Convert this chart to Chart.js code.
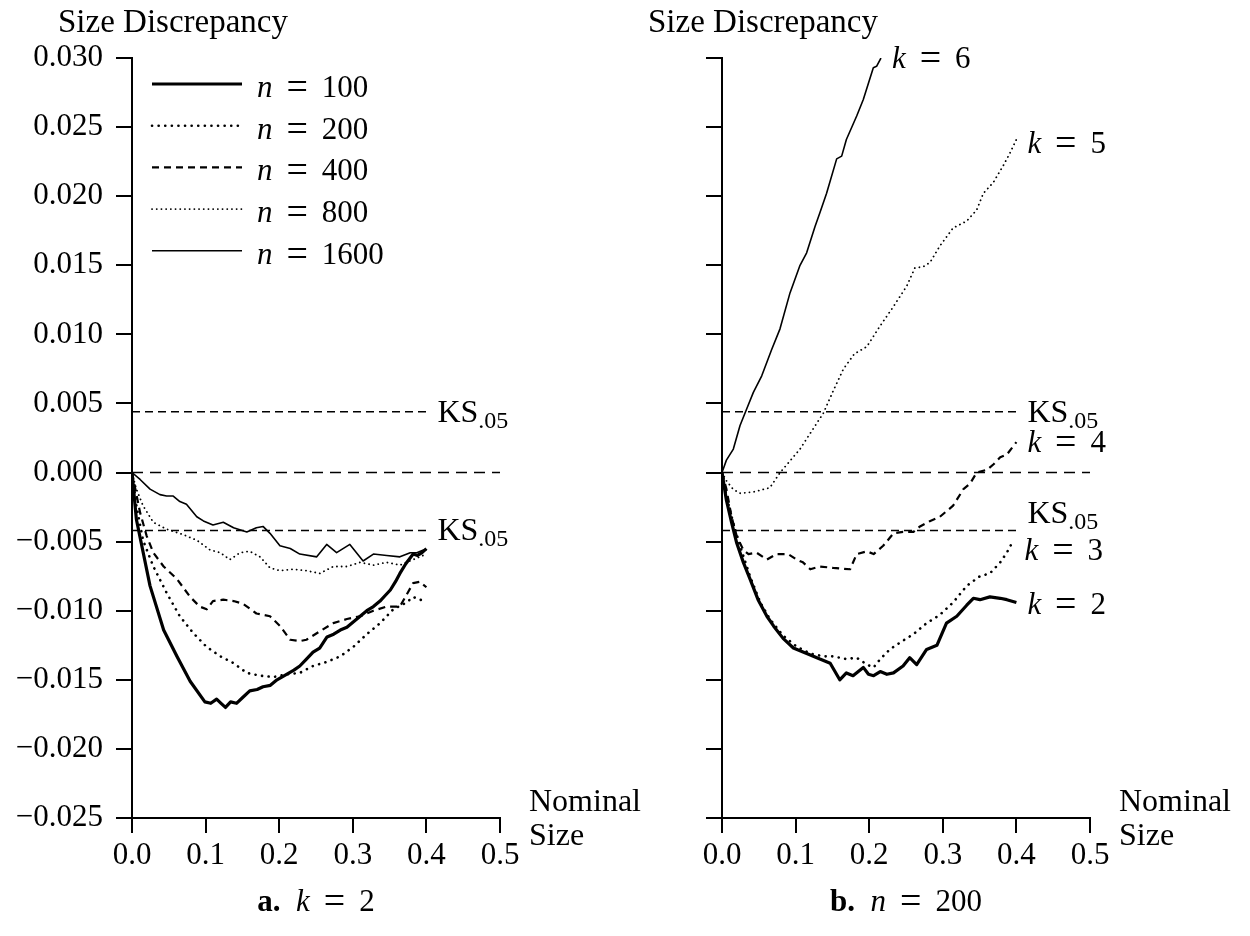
<!DOCTYPE html>
<html>
<head>
<meta charset="utf-8">
<script src="https://cdn.jsdelivr.net/npm/chart.js@4.4.1/dist/chart.umd.min.js"></script>
<style>
  html, body { margin: 0; padding: 0; background: #fff; }
  #wrap { position: relative; width: 1250px; height: 936px; overflow: hidden; }
  canvas { position: absolute; top: 0; }
</style>
</head>
<body>
<div id="wrap">
  <canvas id="left" width="660" height="936" style="left:0"></canvas>
  <canvas id="right" width="660" height="936" style="left:590px"></canvas>
</div>
<script>
const FONT = '"Liberation Serif", "Times New Roman", serif';

// axis ticks
const xTicks = [0, 0.1, 0.2, 0.3, 0.4, 0.5];
const yTicks = [-0.025, -0.02, -0.015, -0.01, -0.005, 0, 0.005, 0.01, 0.015, 0.02, 0.025, 0.03];

// reference lines
const ksLevels = [0.0044, -0.0042];
const ksEnd = 0.4;
const zeroEnd = 0.5;

// panel a: k = 2, series by n  ([nominal size, discrepancy])
const nValues = [100, 200, 400, 800, 1600];
const n100 = [[0,0],[0.006,-0.0034],[0.0245,-0.0082],[0.043,-0.0114],[0.061,-0.0133],[0.079,-0.0151],
  [0.099,-0.0166],[0.107,-0.0167],[0.115,-0.0164],[0.121,-0.0167],[0.127,-0.0170],[0.134,-0.0166],
  [0.142,-0.0167],[0.15,-0.0163],[0.16,-0.0158],[0.17,-0.0157],[0.178,-0.0155],[0.188,-0.0154],
  [0.197,-0.0150],[0.21,-0.0146],[0.22,-0.0143],[0.228,-0.0140],[0.237,-0.0135],[0.246,-0.0130],
  [0.255,-0.0127],[0.265,-0.0119],[0.274,-0.0117],[0.283,-0.0114],[0.292,-0.0112],[0.301,-0.0108],
  [0.31,-0.0104],[0.319,-0.0100],[0.328,-0.0097],[0.337,-0.0093],[0.344,-0.0089],[0.351,-0.0085],
  [0.358,-0.0079],[0.364,-0.0073],[0.372,-0.0066],[0.382,-0.0059],[0.388,-0.0060],[0.394,-0.0058],
  [0.400,-0.0055]];
const n200 = [[0,0],[0.006,-0.0024],[0.015,-0.0049],[0.029,-0.0068],[0.047,-0.0087],[0.065,-0.0104],
  [0.083,-0.0116],[0.101,-0.0126],[0.12,-0.0133],[0.138,-0.0138],[0.156,-0.0145],[0.174,-0.0147],
  [0.192,-0.0148],[0.21,-0.0146],[0.228,-0.0145],[0.246,-0.0140],[0.265,-0.0137],[0.283,-0.0133],
  [0.301,-0.0126],[0.319,-0.0117],[0.337,-0.0109],[0.355,-0.0099],[0.373,-0.0094],[0.382,-0.0090],
  [0.391,-0.0092],[0.4,-0.0093]];
const n400 = [[0,0],[0.011,-0.0029],[0.02,-0.0046],[0.029,-0.0058],[0.043,-0.0068],[0.061,-0.0077],
  [0.079,-0.0090],[0.092,-0.0097],[0.1015,-0.0099],[0.11,-0.0093],[0.124,-0.0092],[0.138,-0.0093],
  [0.151,-0.0095],[0.169,-0.0102],[0.1875,-0.0104],[0.201,-0.0111],[0.215,-0.0121],[0.228,-0.0122],
  [0.237,-0.0121],[0.255,-0.0115],[0.2735,-0.0109],[0.292,-0.0106],[0.31,-0.0104],[0.328,-0.0100],
  [0.346,-0.0097],[0.364,-0.0097],[0.382,-0.0080],[0.391,-0.0079],[0.4,-0.0083]];
const n800 = [[0,0],[0.006,-0.0012],[0.015,-0.0024],[0.029,-0.0036],[0.047,-0.0041],[0.07,-0.0045],
  [0.088,-0.0049],[0.106,-0.0056],[0.12,-0.0058],[0.133,-0.0063],[0.147,-0.0058],[0.16,-0.0057],
  [0.174,-0.0061],[0.1875,-0.0069],[0.201,-0.0071],[0.219,-0.0070],[0.237,-0.0071],[0.255,-0.0073],
  [0.2735,-0.0068],[0.292,-0.0068],[0.31,-0.0065],[0.328,-0.0067],[0.346,-0.0065],[0.364,-0.0067],
  [0.382,-0.0063],[0.4,-0.0059]];
const n1600 = [[0,0],[0.011,-0.0005],[0.0245,-0.0012],[0.038,-0.0016],[0.047,-0.0017],[0.056,-0.0017],
  [0.065,-0.0021],[0.074,-0.0023],[0.088,-0.0032],[0.097,-0.0035],[0.11,-0.0038],[0.124,-0.0036],
  [0.138,-0.0040],[0.156,-0.0043],[0.169,-0.0040],[0.178,-0.0039],[0.1875,-0.0044],[0.201,-0.0053],
  [0.215,-0.0055],[0.228,-0.0059],[0.251,-0.0061],[0.2645,-0.0052],[0.278,-0.0058],[0.296,-0.0052],
  [0.314,-0.0064],[0.328,-0.0059],[0.346,-0.0060],[0.364,-0.0061],[0.378,-0.0058],[0.387,-0.0058],
  [0.396,-0.0056],[0.4,-0.0056]];

// panel b: n = 200, series by k
const kValues = [2, 3, 4, 5, 6];
const k2 = [[0,0],[0.006,-0.0020],[0.013,-0.0036],[0.02,-0.0051],[0.029,-0.0065],[0.038,-0.0077],
  [0.049,-0.0092],[0.061,-0.0104],[0.07,-0.0111],[0.083,-0.0120],[0.097,-0.0127],[0.106,-0.0129],
  [0.12,-0.0132],[0.133,-0.0135],[0.147,-0.0138],[0.16,-0.0150],[0.169,-0.0145],[0.178,-0.0147],
  [0.192,-0.0141],[0.199,-0.0146],[0.206,-0.0147],[0.215,-0.0144],[0.224,-0.0146],[0.233,-0.0145],
  [0.246,-0.0140],[0.255,-0.0134],[0.2645,-0.0139],[0.278,-0.0128],[0.292,-0.0125],[0.305,-0.0109],
  [0.319,-0.0104],[0.3325,-0.0096],[0.3415,-0.0091],[0.3505,-0.0092],[0.364,-0.0090],[0.378,-0.0091],
  [0.387,-0.0092],[0.4,-0.0094]];
const k3 = [[0,0],[0.006,-0.0017],[0.015,-0.0036],[0.0245,-0.0053],[0.038,-0.0075],[0.052,-0.0094],
  [0.065,-0.0106],[0.083,-0.0118],[0.1015,-0.0126],[0.12,-0.0131],[0.138,-0.0133],[0.151,-0.0133],
  [0.169,-0.0135],[0.183,-0.0134],[0.197,-0.0139],[0.206,-0.0141],[0.215,-0.0135],[0.228,-0.0128],
  [0.242,-0.0123],[0.26,-0.0117],[0.278,-0.0109],[0.296,-0.0103],[0.314,-0.0094],[0.3325,-0.0082],
  [0.3505,-0.0075],[0.364,-0.0073],[0.378,-0.0065],[0.387,-0.0058],[0.396,-0.0049]];
const k4 = [[0,0],[0.006,-0.0012],[0.013,-0.0032],[0.02,-0.0046],[0.029,-0.0056],[0.036,-0.0059],
  [0.047,-0.0058],[0.061,-0.0063],[0.074,-0.0059],[0.09,-0.0059],[0.1015,-0.0063],[0.11,-0.0065],
  [0.12,-0.0070],[0.133,-0.0068],[0.151,-0.0069],[0.174,-0.0070],[0.183,-0.0059],[0.197,-0.0057],
  [0.206,-0.0059],[0.219,-0.0053],[0.233,-0.0044],[0.246,-0.0043],[0.26,-0.0043],[0.269,-0.0039],
  [0.283,-0.0035],[0.296,-0.0032],[0.314,-0.0024],[0.328,-0.0012],[0.337,-0.0008],[0.346,0.0],
  [0.36,0.0002],[0.369,0.0006],[0.378,0.0011],[0.387,0.0013],[0.4,0.0022]];
const k5 = [[0,0],[0.006,-0.0006],[0.015,-0.0012],[0.0245,-0.0015],[0.043,-0.0014],[0.065,-0.0011],
  [0.079,0.0],[0.106,0.0017],[0.1377,0.0043],[0.151,0.0059],[0.165,0.0075],[0.18,0.0086],
  [0.1966,0.0091],[0.2147,0.0106],[0.2328,0.0120],[0.251,0.0135],[0.262,0.0148],[0.2735,0.0149],
  [0.2826,0.0152],[0.296,0.0164],[0.314,0.0177],[0.3325,0.0182],[0.346,0.0190],[0.355,0.0202],
  [0.3687,0.0210],[0.382,0.0222],[0.391,0.0231],[0.4,0.0241]];
const k6 = [[0,0],[0.006,0.0009],[0.0154,0.0017],[0.0245,0.0034],[0.0335,0.0046],[0.0426,0.0058],
  [0.054,0.0070],[0.0675,0.0089],[0.0788,0.0104],[0.0924,0.0130],[0.106,0.0150],[0.115,0.0159],
  [0.1264,0.0178],[0.133,0.0188],[0.142,0.0202],[0.1558,0.0227],[0.1626,0.0229],[0.169,0.0241],
  [0.183,0.0258],[0.192,0.0270],[0.2056,0.0293],[0.21,0.0294],[0.216,0.0300]];

/* line styles, shared by both panels */
const styles = [
  { borderWidth: 3.2, borderDash: [], borderCapStyle: 'butt' },          // thick solid
  { borderWidth: 2.6, borderDash: [0.1, 6.5], borderCapStyle: 'round' }, // dotted
  { borderWidth: 2.2, borderDash: [7, 5], borderCapStyle: 'butt' },      // dashed
  { borderWidth: 1.8, borderDash: [0.1, 4.6], borderCapStyle: 'round' }, // fine dotted
  { borderWidth: 1.6, borderDash: [], borderCapStyle: 'butt' }           // thin solid
];

function toPoints(pairs) {
  return pairs.map(p => ({ x: p[0], y: p[1] }));
}

function seriesSet(list, names) {
  return list.map((pairs, i) => Object.assign({
    label: names[i],
    data: toPoints(pairs),
    borderColor: '#000',
    borderJoinStyle: 'round',
    pointRadius: 0,
    fill: false,
    tension: 0
  }, styles[i]));
}

function refLines() {
  let out = ksLevels.map(v => ({
    label: 'KS',
    data: [{ x: 0, y: v }, { x: ksEnd, y: v }],
    borderColor: '#000', borderWidth: 1.5, borderDash: [8, 5], pointRadius: 0, fill: false
  }));
  out.push({
    label: 'zero',
    data: [{ x: 0, y: 0 }, { x: zeroEnd, y: 0 }],
    borderColor: '#000', borderWidth: 1.5, borderDash: [11, 7], pointRadius: 0, fill: false
  });
  return out;
}

function fmtY(v) {
  if (Math.abs(v) < 1e-12) return '0.000';
  return (v < 0 ? '\u2212' : '') + Math.abs(v).toFixed(3);
}

/* text with mixed fonts (italic math letters, bold captions, subscripts) */
function richText(ctx, x, y, parts, size, align) {
  const fontFor = p => (p.s || '') + ' ' + (p.size || size) + 'px ' + FONT;
  let w = 0;
  parts.forEach(p => { ctx.font = fontFor(p); w += ctx.measureText(p.t).width; });
  let cx = align === 'center' ? x - w / 2 : x;
  ctx.textAlign = 'left';
  ctx.textBaseline = 'alphabetic';
  ctx.fillStyle = '#000';
  parts.forEach(p => {
    ctx.font = fontFor(p);
    ctx.fillText(p.t, cx, y + (p.dy || 0));
    cx += ctx.measureText(p.t).width;
  });
}

// "v = num" in math style: italic letter, a wide equals sign
function mathEq(letter, num) {
  return [{ t: letter, s: 'italic' }, { t: '\u2009 ' }, { t: '=', size: 38, dy: 2 }, { t: ' \u2009' + num }];
}

const ksText = [{ t: 'KS' }, { t: '.05', size: 24, dy: 6 }];

const figText = {
  id: 'figText',
  afterDraw(chart, args, opts) {
    const ctx = chart.ctx;
    const a = chart.chartArea;
    const xs = chart.scales.x, ys = chart.scales.y;
    ctx.save();
    richText(ctx, a.left - 74, 32, [{ t: 'Size Discrepancy' }], 33);
    richText(ctx, a.right + 29, 811, [{ t: 'Nominal' }], 32);
    richText(ctx, a.right + 29, 845, [{ t: 'Size' }], 32);
    richText(ctx, (a.left + a.right) / 2, 911, opts.caption, 31, 'center');

    // KS labels
    ksLevels.forEach((v, i) => {
      richText(ctx, xs.getPixelForValue(ksEnd) + 11, ys.getPixelForValue(v) + opts.ksDy[i], ksText, 32);
    });

    // in-plot legend
    if (opts.legend) {
      chart.data.datasets.slice(0, 5).forEach((ds, i) => {
        const y = 84 + i * 41.7;
        ctx.save();
        ctx.strokeStyle = '#000';
        ctx.lineWidth = ds.borderWidth;
        ctx.lineCap = ds.borderCapStyle;
        ctx.setLineDash(ds.borderDash);
        ctx.beginPath();
        ctx.moveTo(a.left + 20, y);
        ctx.lineTo(a.left + 110, y);
        ctx.stroke();
        ctx.restore();
        richText(ctx, a.left + 125, y + 13, mathEq('n', nValues[i]), 31);
      });
    }

    // curve end labels
    if (opts.endLabels) {
      opts.endLabels.forEach((lab, i) => {
        const pts = chart.data.datasets[i].data;
        const last = pts[pts.length - 1];
        richText(ctx, xs.getPixelForValue(last.x) + 11, ys.getPixelForValue(last.y) + lab.dy,
          mathEq('k', kValues[i]), 31);
      });
    }
    ctx.restore();
  }
};

function makeChart(id, series, names, showY, textOpts) {
  const axisGrid = { drawOnChartArea: false, drawTicks: true, color: '#000', lineWidth: 2 };
  return new Chart(document.getElementById(id), {
    type: 'line',
    data: { datasets: seriesSet(series, names).concat(refLines()) },
    options: {
      responsive: false,
      animation: false,
      layout: { padding: { top: 58, left: 0, right: 160, bottom: 0 } },
      plugins: { legend: { display: false }, tooltip: { enabled: false }, figText: textOpts },
      scales: {
        x: {
          type: 'linear', min: 0, max: 0.5,
          afterBuildTicks: s => { s.ticks = xTicks.map(v => ({ value: v })); },
          afterFit: s => { s.height = 118; },
          ticks: { padding: 4, color: '#000', font: { family: FONT, size: 31 },
                   maxRotation: 0, autoSkip: false, callback: v => v.toFixed(1) },
          grid: Object.assign({ tickLength: 15 }, axisGrid),
          border: { display: true, color: '#000', width: 2 }
        },
        y: {
          type: 'linear', min: -0.025, max: 0.03,
          afterBuildTicks: s => { s.ticks = yTicks.map(v => ({ value: v })); },
          afterFit: s => { s.width = 132; },
          ticks: { padding: 13, color: '#000', font: { family: FONT, size: 31 },
                   autoSkip: false, callback: showY ? fmtY : () => '' },
          grid: Object.assign({ tickLength: 16 }, axisGrid),
          border: { display: true, color: '#000', width: 2 }
        }
      }
    },
    plugins: [figText]
  });
}

makeChart('left', [n100, n200, n400, n800, n1600], nValues.map(n => 'n = ' + n), true, {
  caption: [{ t: 'a.', s: 'bold' }, { t: '\u2002' }].concat(mathEq('k', 2)),
  ksDy: [10, 9],
  legend: true
});

makeChart('right', [k2, k3, k4, k5, k6], kValues.map(k => 'k = ' + k), false, {
  caption: [{ t: 'b.', s: 'bold' }, { t: '\u2002' }].concat(mathEq('n', 200)),
  ksDy: [10, -8],
  endLabels: [{ dy: 12 }, { dy: 20 }, { dy: 10 }, { dy: 13 }, { dy: 10 }]
});
</script>
</body>
</html>
